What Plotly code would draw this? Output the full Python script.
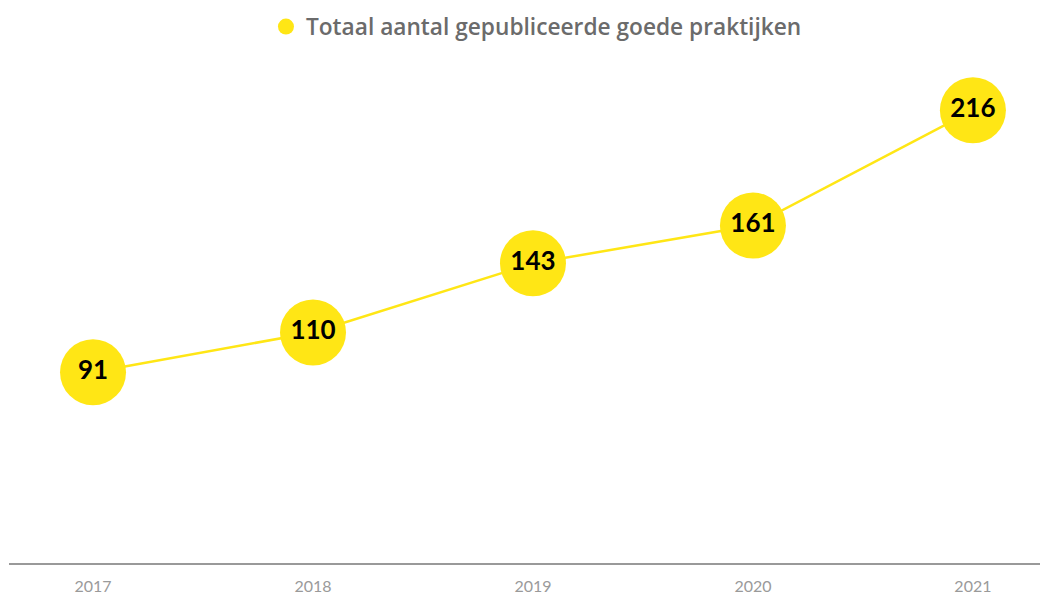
import plotly.graph_objects as go

years = [2017, 2018, 2019, 2020, 2021]
values = [91, 110, 143, 161, 216]
tick_labels = ["2017", "2018", "2019", "2020", "2021"]
series_name = "Totaal aantal gepubliceerde goede praktijken"

YELLOW = "#FFE615"

fig = go.Figure()
fig.add_trace(go.Scatter(
    x=years, y=values, mode="lines+markers+text",
    line=dict(color=YELLOW, width=2.5),
    marker=dict(color=YELLOW, size=66),
    text=[str(v) for v in values], textposition="middle center",
    textfont=dict(family="Lato", size=26, color="#000000", weight="bold"),
    showlegend=False, cliponaxis=False, hoverinfo="skip",
))
fig.add_trace(go.Scatter(
    x=[None], y=[None], mode="markers", name=series_name,
    marker=dict(color=YELLOW, size=18), showlegend=True,
))

fig.update_layout(
    width=1040, height=596,
    margin=dict(l=9, r=0, t=60, b=33, autoexpand=False),
    paper_bgcolor="white", plot_bgcolor="white",
    showlegend=True,
    legend=dict(orientation="h", x=0.5116, xanchor="center", y=0.955, yanchor="middle",
                yref="container", font=dict(family="Open Sans", size=22.7, color="#6b6b6b", weight=600),
                itemsizing="trace"),
    xaxis=dict(range=[2016.618, 2021.305], tickvals=years, ticktext=tick_labels,
               showgrid=False, zeroline=False, showline=True, linecolor="#999999", linewidth=1.5,
               ticks="", tickfont=dict(family="Lato", size=16, color="#9a9a9a"), ticklabelstandoff=8),
    yaxis=dict(range=[0, 240], visible=False, showgrid=False, zeroline=False),
)
fig.write_html(
    "out.html",
    config={"displayModeBar": False},
    post_script="document.body.style.margin='0';document.documentElement.style.overflow='hidden';document.body.style.overflow='hidden';",
)
